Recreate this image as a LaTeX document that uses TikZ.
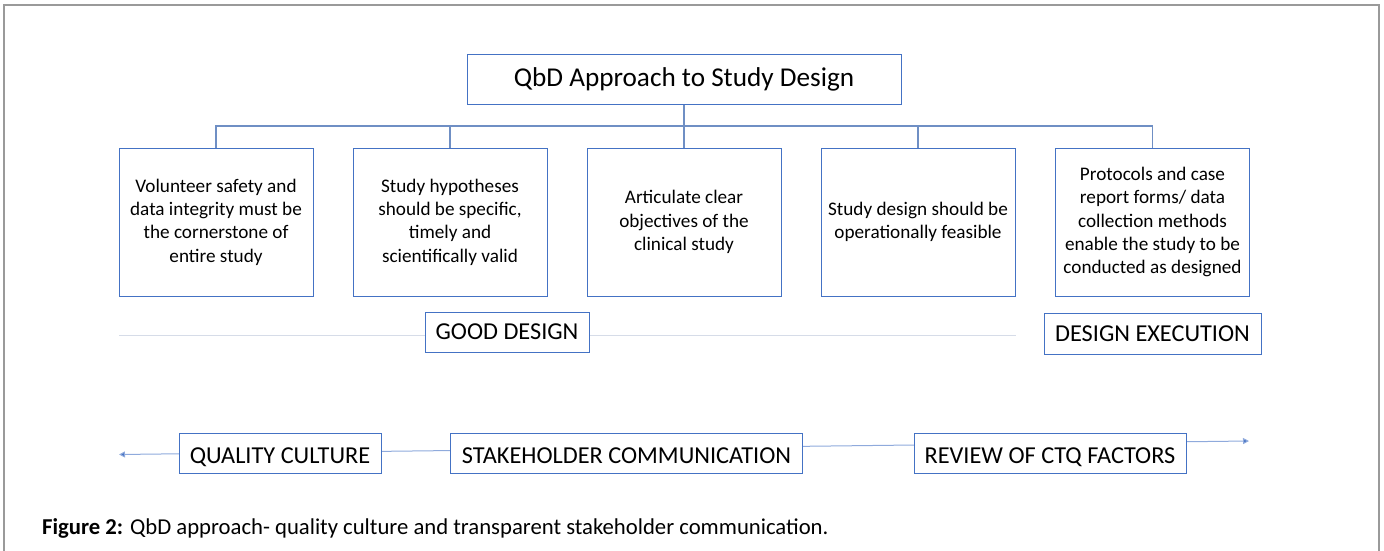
\documentclass[tikz,border=0pt]{standalone}
\usepackage{fontspec}
\setmainfont{Carlito}
\usetikzlibrary{arrows.meta}
\definecolor{boxblue}{HTML}{4472C4}
\definecolor{treeblue}{HTML}{6F8FC4}
\definecolor{faint}{HTML}{D6DCE8}
\definecolor{arrowblue}{HTML}{8FAADC}
\definecolor{framegrey}{HTML}{9A9A9A}
\begin{document}
\begin{tikzpicture}[x=1pt,y=-1pt,
  bx/.style={draw=boxblue,line width=1pt,fill=white,inner sep=1pt,align=center},
  stepbox/.style={bx,minimum width=194pt,minimum height=148pt,
     font=\fontsize{19.2}{23.3}\selectfont},
  tagbox/.style={bx,minimum height=40pt,font=\fontsize{24.3}{28}\selectfont},
  lowtag/.style={tagbox,text height=20.5pt,text depth=0pt},
  tree/.style={draw=treeblue,line width=1.2pt}]
\useasboundingbox (0,0) rectangle (1384,551);
\draw[framegrey,line width=1.5pt] (4,551) -- (4,5) -- (1379,5) -- (1379,551);
% horizontal faint line
\coordinate (gl) at (119,335);
\coordinate (gr) at (1016,335);
\draw[faint,line width=1pt] (gl) -- (gr);
% bottom arrow line
\coordinate (al) at (119,454.5);
\coordinate (ar) at (1249,441);
\draw[arrowblue,line width=1pt,{Triangle[length=6pt,width=6pt,fill=boxblue]}-{Triangle[length=6pt,width=6pt,fill=boxblue]}] (al) -- (ar);
% top
\node[bx,minimum width=434pt,minimum height=49pt,font=\fontsize{27.2}{30}\selectfont] (top) at (684,79.5) {QbD Approach to Study Design};
\node[stepbox] (b1) at (216,222) {Volunteer safety and\\data integrity must be\\the cornerstone of\\entire study};
\node[stepbox] (b2) at (450,222) {Study hypotheses\\should be specific,\\timely and\\scientifically valid};
\node[stepbox] (b3) at (684,222) {Articulate clear\\objectives of the\\clinical study};
\node[stepbox] (b4) at (918,222) {Study design should be\\operationally feasible};
\node[stepbox] (b5) at (1152.5,222) {Protocols and case\\report forms/ data\\collection methods\\enable the study to be\\conducted as designed};
\coordinate (hub) at (684,126);
\draw[tree] (top.south) -- (hub);
\foreach \b in {b1,b2,b3,b4,b5}{\draw[tree] (hub) -| (\b.north);}
\node[tagbox,minimum width=164pt] (gd) at (507,332) {GOOD DESIGN};
\node[tagbox,minimum width=217pt,minimum height=41pt] (de) at (1152.5,333.5) {DESIGN EXECUTION};
\node[lowtag,minimum width=202pt] (qc) at (280,453) {QUALITY CULTURE};
\node[lowtag,minimum width=352pt] (sc) at (626.5,453) {STAKEHOLDER COMMUNICATION};
\node[lowtag,minimum width=272pt] (rv) at (1050,453) {REVIEW OF CTQ FACTORS};
\node[anchor=base west,inner sep=0pt,font=\fontsize{22.7}{26}\selectfont] (cap) at (42,534) {\textbf{Figure 2:} QbD approach- quality culture and transparent stakeholder communication.};
\end{tikzpicture}
\end{document}
